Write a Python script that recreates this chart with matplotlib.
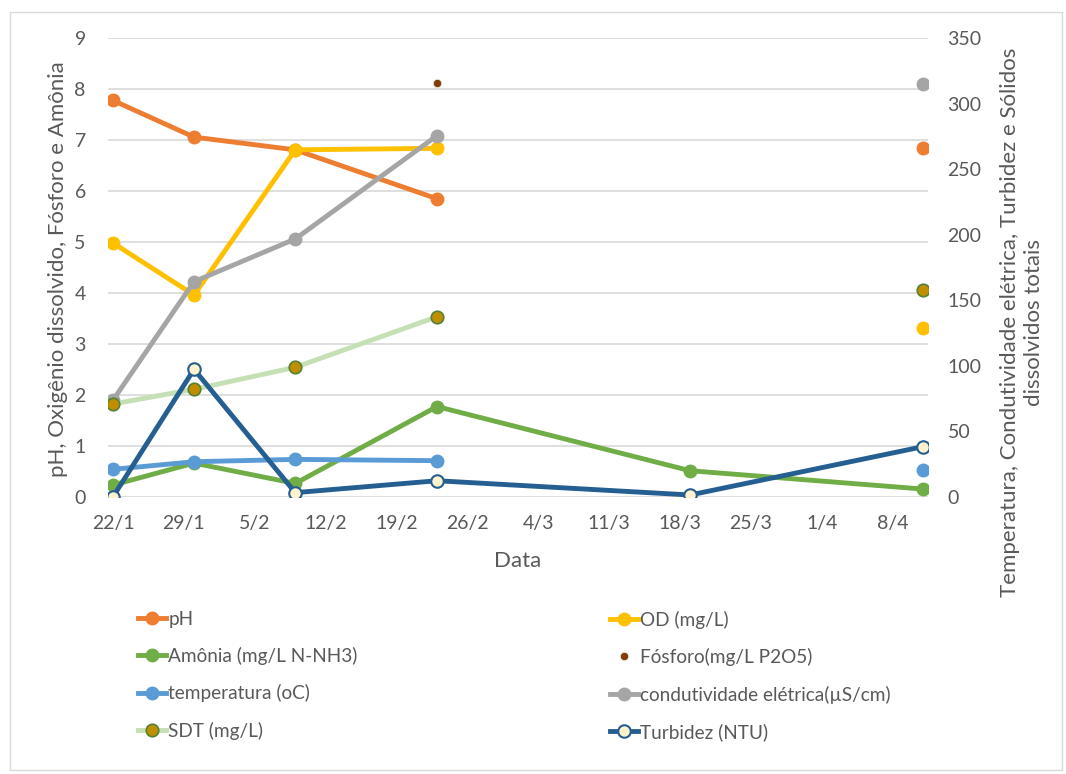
import matplotlib
matplotlib.use("Agg")
import matplotlib.pyplot as plt
from matplotlib.patches import Rectangle
import numpy as np
import pandas as pd

plt.rcParams["font.family"] = ["Lato", "DejaVu Sans"]

nan = np.nan

# datas das coletas
datas = pd.to_datetime(["2020-01-22", "2020-01-30", "2020-02-09",
                        "2020-02-23", "2020-03-19", "2020-04-11"])

# eixo principal
ph = [7.78, 7.06, 6.81, 5.85, nan, 6.84]
od = [4.98, 3.96, 6.81, 6.84, nan, 3.31]
amonia = [0.23, 0.66, 0.26, 1.77, 0.51, 0.15]
fosforo = [nan, nan, nan, 8.12, nan, nan]

# eixo secundario
temperatura = [20.9, 26.7, 28.5, 27.5, nan, 20.4]
condutividade = [73.8, 164.2, 196.8, 275.7, nan, 314.9]
sdt = [70.8, 82.0, 98.8, 137.4, nan, 157.8]
turbidez = [0.0, 97.3, 3.1, 12.2, 1.3, 38.2]

ticks_x = pd.date_range("2020-01-22", "2020-04-08", freq="7D")

cinza = "#595959"

fig = plt.figure(figsize=(10.66, 7.74), dpi=100)
fig.patches.append(Rectangle((10 / 1066, 4 / 774), 1052 / 1066, 758 / 774,
                             transform=fig.transFigure, fill=False,
                             edgecolor="#D9D9D9", lw=1))

ax = fig.add_axes([108 / 1066, 1 - 496.7 / 774, 820 / 1066, 458.4 / 774])
ax2 = ax.twinx()

lw = 3.5
ms = 9

l_ph, = ax.plot(datas, ph, color="#ED7D31", lw=lw, marker="o", ms=ms, label="pH")
l_od, = ax.plot(datas, od, color="#FFC000", lw=lw, marker="o", ms=ms, label="OD (mg/L)")
l_am, = ax.plot(datas, amonia, color="#70AD47", lw=lw, marker="o", ms=ms,
                label="Amônia (mg/L N-NH3)")
l_fo, = ax.plot(datas, fosforo, color="#843C0C", lw=0, marker="o", ms=6,
                mec="#E2F0D9", mew=0.6, label="Fósforo(mg/L P2O5)")

l_te, = ax2.plot(datas, temperatura, color="#5B9BD5", lw=lw, marker="o", ms=ms,
                 label="temperatura (oC)")
l_co, = ax2.plot(datas, condutividade, color="#A5A5A5", lw=lw, marker="o", ms=ms,
                 label="condutividade elétrica(µS/cm)")
l_sd, = ax2.plot(datas, sdt, color="#C5E0B4", lw=lw, marker="o", ms=ms,
                 mfc="#BF8F00", mec="#548235", mew=1.2, label="SDT (mg/L)")
l_tu, = ax2.plot(datas, turbidez, color="#255E91", lw=lw, marker="o", ms=ms,
                 mfc="#FFF2CC", mec="#255E91", mew=1.5, label="Turbidez (NTU)")

ax.set_xlim(datas[0] - pd.Timedelta(hours=12), datas[-1] + pd.Timedelta(hours=12))
ax.set_ylim(0, 9)
ax.set_yticks(range(0, 10))
ax2.set_ylim(0, 350)
ax2.set_yticks(range(0, 351, 50))
ax.set_xticks(ticks_x)
ax.set_xticklabels([f"{d.day}/{d.month}" for d in ticks_x])

ax.grid(axis="y", color="#D9D9D9", lw=1.2)
ax.set_axisbelow(True)
for a in (ax, ax2):
    for s in a.spines.values():
        s.set_visible(False)
ax.tick_params(axis="both", length=0, labelcolor=cinza, labelsize=14)
ax.tick_params(axis="y", pad=16)
ax.tick_params(axis="x", pad=13)
ax2.tick_params(axis="y", length=0, labelcolor=cinza, labelsize=14, pad=14)

fig.text(518 / 1066, 1 - 561 / 774, "Data", ha="center", va="center",
         color=cinza, fontsize=16)
fig.text(58 / 1066, 1 - 269 / 774, "pH, Oxigênio dissolvido, Fósforo e Amônia",
         rotation=90, ha="center", va="center", color=cinza, fontsize=16)
fig.text(1022 / 1066, 1 - 322 / 774,
         "Temperatura, Condutividade elétrica, Turbidez e Sólidos\ndissolvidos totais",
         rotation=90, ha="center", va="center", multialignment="center",
         color=cinza, fontsize=16, linespacing=1.25)

leg_kw = dict(loc="upper left", frameon=False, fontsize=13.7, handlelength=1.5,
              handletextpad=0.12, labelspacing=1.02, borderpad=0, labelcolor=cinza)
fig.legend(handles=[l_ph, l_am, l_te, l_sd], bbox_to_anchor=(128 / 1066, 1 - 601 / 774), **leg_kw)
fig.legend(handles=[l_od, l_fo, l_co, l_tu], bbox_to_anchor=(600 / 1066, 1 - 601 / 774), **leg_kw)

fig.savefig("out.png", dpi=100)
